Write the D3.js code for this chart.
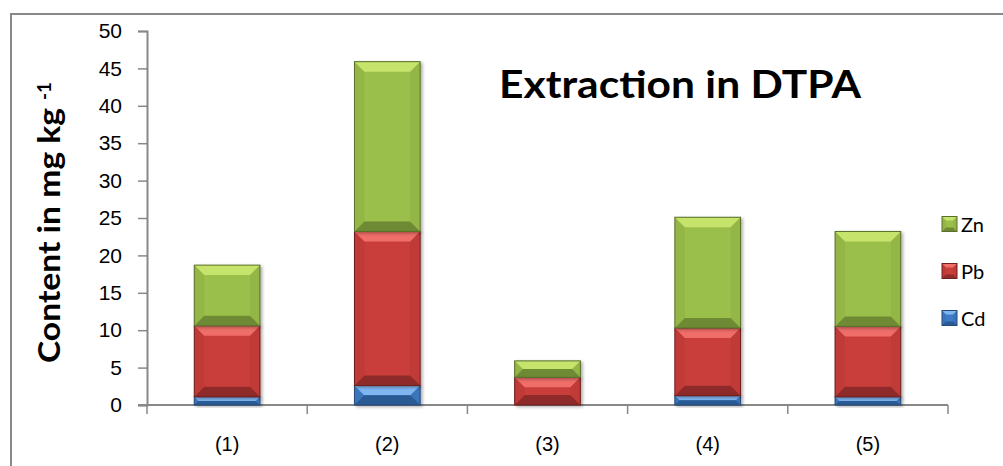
<!DOCTYPE html>
<html>
<head>
<meta charset="utf-8">
<script src="https://cdn.jsdelivr.net/npm/d3@7"></script>
<style>
  body { margin: 0; background: #fff; }
  svg { display: block; font-family: Lato, "Open Sans", sans-serif; }
</style>
</head>
<body>
<div id="chart"></div>
<script>
// categories and series
var samples = ['(1)', '(2)', '(3)', '(4)', '(5)']
var cd = [1.1, 2.6, 0, 1.25, 1.1]
var pb = [9.5, 20.6, 3.7, 9.05, 9.4]
var zn = [8.1, 22.7, 2.2, 14.8, 12.7]
var yTicks = [0, 5, 10, 15, 20, 25, 30, 35, 40, 45, 50]
var seriesNames = ['Cd', 'Pb', 'Zn']

var W = 1003, H = 466
var margin = {top: 31, left: 147, right: 55, bottom: 61}

// colors for each metal: center, light top bevel, dark bottom bevel, outline
var styles = {
    Cd: {fill: '#3f7cc6', light: '#7fb6f2', dark: '#2a5a94', side: '#3a74bc', line: '#25497a'},
    Pb: {fill: '#c93e3b', light: '#f06e6a', dark: '#8f2b29', side: '#c03a38', line: '#6e1f1e'},
    Zn: {fill: '#9bbf4b', light: '#c6e46c', dark: '#6e8a34', side: '#93b646', line: '#5a6f2c'}
}

var svg = d3.select('#chart').append('svg')
    .attr('width', W)
    .attr('height', H)

svg.append('rect').attr('width', W).attr('height', H).attr('fill', '#fff')

// outer chart border
svg.append('path')
    .attr('d', 'M11,' + (H + 5) + 'V14H' + (W + 5))
    .attr('fill', 'none')
    .attr('stroke', '#888')
    .attr('stroke-width', 2)

var defs = svg.append('defs')
var f = defs.append('filter').attr('id', 'shadow')
    .attr('x', '-20%').attr('y', '-20%').attr('width', '150%').attr('height', '150%')
f.append('feDropShadow')
    .attr('dx', 2).attr('dy', 1.5).attr('stdDeviation', 1.8)
    .attr('flood-color', '#000').attr('flood-opacity', 0.3)

var x = d3.scaleBand()
    .domain(samples)
    .range([margin.left, W - margin.right])
    .paddingInner(0.59)
    .paddingOuter(0.295)

var y = d3.scaleLinear()
    .domain([0, 50])
    .range([H - margin.bottom, margin.top])

// stack the series
var rows = samples.map(function(s, i){ return {sample: s, Cd: cd[i], Pb: pb[i], Zn: zn[i]} })
var stacked = d3.stack().keys(seriesNames)(rows)

// Y axis
var yAxis = svg.append('g')
    .attr('transform', 'translate(' + margin.left + ',0)')
    .call(d3.axisLeft(y).tickValues(yTicks).tickSize(9).tickPadding(16))
yAxis.select('.domain').attr('stroke', '#888').attr('stroke-width', 2)
yAxis.selectAll('.tick line').attr('stroke', '#888').attr('stroke-width', 1.5)
yAxis.selectAll('.tick text')
    .attr('font-size', 21)
    .attr('fill', '#000')

// X axis: labels at band centres, ticks at band edges
var xAxis = svg.append('g')
    .attr('transform', 'translate(0,' + y(0) + ')')
    .call(d3.axisBottom(x).tickSize(0).tickPadding(32))
xAxis.select('.domain').remove()
xAxis.selectAll('.tick text').attr('font-size', 20).attr('fill', '#000')
var edges = samples.map(function(s){ return x(s) - x.step() * x.paddingInner() / 2 })
edges.push(x(samples[samples.length - 1]) + x.bandwidth() + x.step() * x.paddingInner() / 2)
svg.append('line')
    .attr('x1', margin.left - 9).attr('x2', edges[edges.length - 1])
    .attr('y1', y(0)).attr('y2', y(0))
    .attr('stroke', '#888').attr('stroke-width', 2)
svg.selectAll('.xedge').data(edges).enter().append('line')
    .attr('class', 'xedge')
    .attr('x1', function(d){ return d }).attr('x2', function(d){ return d })
    .attr('y1', y(0)).attr('y2', y(0) + 9)
    .attr('stroke', '#888').attr('stroke-width', 1.5)

// draw a bevelled box
function bevelBox(g, x0, x1, y0, y1, st, depth){
    var w = x1 - x0, h = y1 - y0
    if (h <= 0) return
    var b = Math.min(depth, h / 2, w / 2)
    var pts = function(a){ return a.map(function(p){ return p.join(',') }).join(' ') }
    g.append('rect').attr('x', x0).attr('y', y0).attr('width', w).attr('height', h)
        .attr('fill', st.fill)
    g.append('polygon').attr('fill', st.side)
        .attr('points', pts([[x0, y0], [x0 + b, y0 + b], [x0 + b, y1 - b], [x0, y1]]))
    g.append('polygon').attr('fill', st.side)
        .attr('points', pts([[x1, y0], [x1 - b, y0 + b], [x1 - b, y1 - b], [x1, y1]]))
    g.append('polygon').attr('fill', st.light)
        .attr('points', pts([[x0, y0], [x1, y0], [x1 - b, y0 + b], [x0 + b, y0 + b]]))
    g.append('polygon').attr('fill', st.dark)
        .attr('points', pts([[x0, y1], [x1, y1], [x1 - b, y1 - b], [x0 + b, y1 - b]]))
    g.append('rect').attr('x', x0).attr('y', y0).attr('width', w).attr('height', h)
        .attr('fill', 'none').attr('stroke', st.line).attr('stroke-width', 1)
}

// bars
var bars = svg.append('g')
stacked.forEach(function(layer){
    var st = styles[layer.key]
    layer.forEach(function(seg){
        var g = bars.append('g').attr('filter', 'url(#shadow)')
        var x0 = x(seg.data.sample)
        bevelBox(g, x0, x0 + x.bandwidth(), y(seg[1]), y(seg[0]), st, 10)
    })
})

// legend (top entry is Zn)
var legendOrder = seriesNames.slice().reverse()
var legend = svg.append('g')
legendOrder.forEach(function(name, i){
    var cy = 224 + i * 47
    var g = legend.append('g')
    bevelBox(g, 942, 957, cy - 7.5, cy + 7.5, styles[name], 4)
    legend.append('text')
        .attr('x', 961).attr('y', cy + 7.5)
        .attr('font-size', 20)
        .text(name)
})

// title
svg.append('text')
    .attr('x', 499).attr('y', 98)
    .attr('font-size', 38)
    .attr('font-weight', 'bold')
    .attr('textLength', 362)
    .attr('lengthAdjust', 'spacingAndGlyphs')
    .text('Extraction in DTPA')

// y axis title
svg.append('text')
    .attr('transform', 'translate(60,363) rotate(-90)')
    .attr('font-size', 30)
    .attr('font-weight', 'bold')
    .attr('textLength', 255)
    .attr('lengthAdjust', 'spacingAndGlyphs')
    .text('Content in mg kg')
svg.append('text')
    .attr('transform', 'translate(51,100) rotate(-90)')
    .attr('font-size', 19)
    .attr('font-weight', 'bold')
    .text('-1')
</script>
</body>
</html>
